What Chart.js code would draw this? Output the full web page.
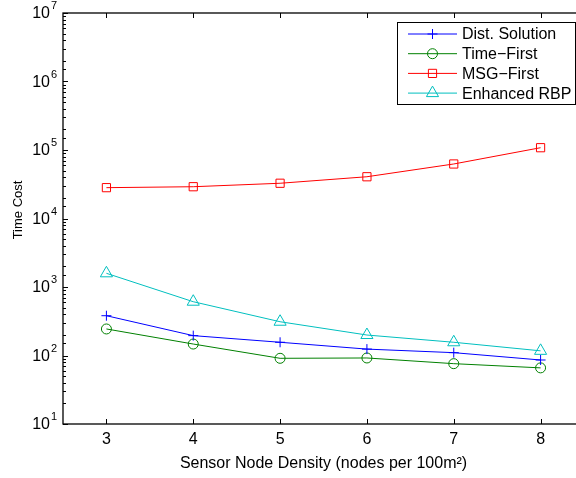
<!DOCTYPE html>
<html>
<head>
<meta charset="utf-8">
<title>Time Cost vs Sensor Node Density</title>
<script src="https://cdn.jsdelivr.net/npm/chart.js@4.4.1/dist/chart.umd.min.js"></script>
<style>
  html, body { margin: 0; padding: 0; background: #fff; overflow: hidden; }
  #wrap { width: 576px; height: 478px; position: relative; overflow: hidden; }
</style>
</head>
<body>
<div id="wrap"><canvas id="costChart" width="584" height="478"></canvas></div>
<script>
// node density (nodes per 100 m^2)
const densities = [3, 4, 5, 6, 7, 8];
const xTicks = [3, 4, 5, 6, 7, 8];

// time cost per scheme
const distSolution = [381, 195, 156, 124, 110, 86];
const timeFirst = [244, 147, 91, 92, 76, 66];
const msgFirst = [28200, 29100, 32700, 40700, 62500, 108000];
const enhancedRbp = [1585, 610, 311, 199, 156, 117];

// y axis decade exponents (10^1 .. 10^7)
const yExponents = [1, 2, 3, 4, 5, 6, 7];

const FONT = 'Liberation Sans, Arial, Helvetica, sans-serif';

function toPoints(values) {
    return densities.map((d, i) => ({ x: d, y: values[i] }));
}

function series(label, values, color, style, radius) {
    return {
        label: label,
        data: toPoints(values),
        borderColor: color,
        backgroundColor: 'rgba(0,0,0,0)',
        borderWidth: 1,
        pointStyle: style,
        pointRadius: radius,
        pointBorderWidth: 1,
        pointBorderColor: color,
        pointBackgroundColor: 'rgba(0,0,0,0)',
        tension: 0
    };
}

// MATLAB-like frame: box lines, inward ticks, 10^n labels, y label and an inset legend
const matlabFrame = {
    id: 'matlabFrame',
    afterDraw(chart) {
        const ctx = chart.ctx;
        const area = chart.chartArea;
        const xs = chart.scales.x;
        const ys = chart.scales.y;

        ctx.save();
        ctx.strokeStyle = '#000';
        ctx.lineWidth = 1.3;
        ctx.strokeRect(area.left, area.top, area.right - area.left, area.bottom - area.top);

        // x ticks, bottom and top
        ctx.lineWidth = 1;
        ctx.beginPath();
        xTicks.forEach(v => {
            const px = Math.round(xs.getPixelForValue(v)) + 0.5;
            ctx.moveTo(px, area.bottom);
            ctx.lineTo(px, area.bottom - 5);
            ctx.moveTo(px, area.top);
            ctx.lineTo(px, area.top + 5);
        });
        // y ticks: decades long, the rest short
        ys.ticks.forEach(t => {
            const lg = Math.log10(t.value);
            const major = Math.abs(lg - Math.round(lg)) < 1e-9;
            const py = Math.round(ys.getPixelForValue(t.value)) + 0.5;
            const len = major ? 5 : 3;
            ctx.moveTo(area.left, py);
            ctx.lineTo(area.left + len, py);
            ctx.moveTo(area.right, py);
            ctx.lineTo(area.right - len, py);
        });
        ctx.stroke();

        // y labels as 10 with superscript exponent
        ctx.fillStyle = '#000';
        ctx.textBaseline = 'middle';
        yExponents.forEach(e => {
            const py = ys.getPixelForValue(Math.pow(10, e));
            ctx.font = '16px ' + FONT;
            ctx.textAlign = 'right';
            ctx.fillText('10', 50, py + 1);
            ctx.font = '11px ' + FONT;
            ctx.textAlign = 'left';
            ctx.fillText(String(e), 51, py - 7);
        });

        // y axis label
        ctx.save();
        ctx.translate(18, 210);
        ctx.rotate(-Math.PI / 2);
        ctx.font = '13px ' + FONT;
        ctx.textAlign = 'center';
        ctx.textBaseline = 'middle';
        ctx.fillText('Time Cost', 0, 0);
        ctx.restore();

        // legend box
        const box = { left: 397.5, top: 22.5, right: 575.5, bottom: 104.5 };
        ctx.fillStyle = '#fff';
        ctx.fillRect(box.left, box.top, box.right - box.left, box.bottom - box.top);
        ctx.strokeStyle = '#000';
        ctx.lineWidth = 1;
        ctx.strokeRect(box.left, box.top, box.right - box.left, box.bottom - box.top);

        chart.data.datasets.forEach((ds, i) => {
            const y = 34 + i * 19.7;
            ctx.strokeStyle = ds.borderColor;
            ctx.lineWidth = 1;
            ctx.beginPath();
            ctx.moveTo(408, y);
            ctx.lineTo(457, y);
            ctx.stroke();
            ctx.fillStyle = 'rgba(0,0,0,0)';
            Chart.helpers.drawPoint(ctx, {
                pointStyle: ds.pointStyle,
                radius: ds.pointRadius,
                rotation: 0,
                borderWidth: 1
            }, 432.5, y);
            ctx.fillStyle = '#000';
            ctx.font = '16px ' + FONT;
            ctx.textAlign = 'left';
            ctx.textBaseline = 'middle';
            ctx.fillText(ds.label, 462, y + 1);
        });
        ctx.restore();
    }
};

new Chart(document.getElementById('costChart'), {
    type: 'line',
    data: {
        datasets: [
            series('Dist. Solution', distSolution, '#0000ff', 'cross', 5),
            series('Time\u2212First', timeFirst, '#008000', 'circle', 5),
            series('MSG\u2212First', msgFirst, '#ff0000', 'rect', 5.8),
            series('Enhanced RBP', enhancedRbp, '#00bfbf', 'triangle', 7)
        ]
    },
    options: {
        responsive: false,
        animation: false,
        layout: { autoPadding: false, padding: { top: 13, right: 0, bottom: 0, left: 0 } },
        plugins: {
            legend: { display: false },
            tooltip: { enabled: false }
        },
        scales: {
            x: {
                type: 'linear',
                min: 2.5,
                max: 8.5,
                grid: { display: false, drawTicks: false },
                border: { display: false },
                afterBuildTicks: scale => { scale.ticks = xTicks.map(v => ({ value: v })); },
                afterFit: scale => { scale.height = 54; },
                ticks: {
                    color: '#000',
                    padding: 6,
                    font: { family: FONT, size: 16 },
                    callback: v => String(v)
                },
                title: {
                    display: true,
                    text: 'Sensor Node Density (nodes per 100m\u00b2)',
                    color: '#000',
                    font: { family: FONT, size: 16 },
                    padding: { top: 0, bottom: 5 }
                }
            },
            y: {
                type: 'logarithmic',
                min: 10,
                max: 1e7,
                grid: { display: false, drawTicks: false },
                border: { display: false },
                afterFit: scale => { scale.width = 63; },
                ticks: { display: false }
            }
        }
    },
    plugins: [matlabFrame]
});
</script>
</body>
</html>
